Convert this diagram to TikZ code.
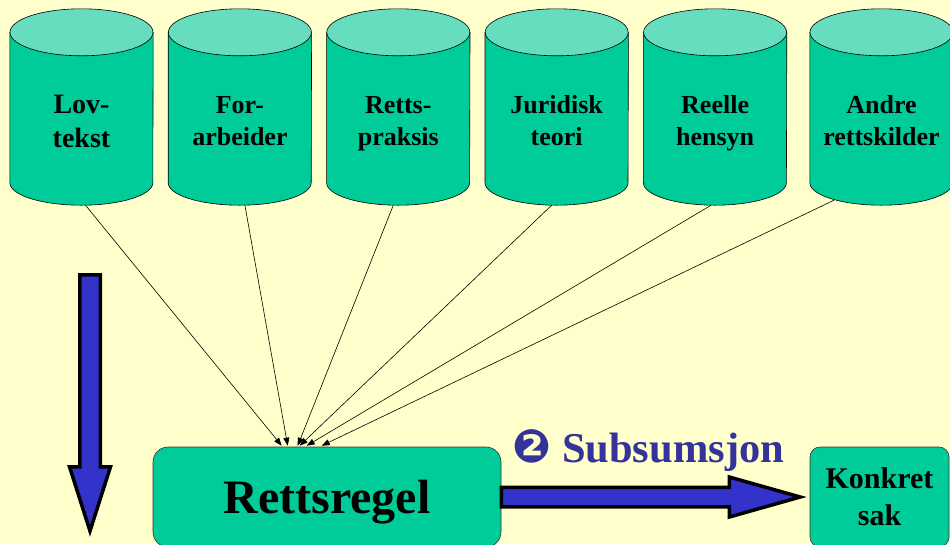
\documentclass[tikz,border=0pt]{standalone}
\usepackage{fontspec}
\setmainfont{Liberation Serif}
\newfontfamily\dingfont{DejaVu Sans}
\usetikzlibrary{arrows.meta, positioning, calc, backgrounds}
\definecolor{bgyellow}{RGB}{255,255,204}
\definecolor{srcgreen}{RGB}{0,204,153}
\definecolor{srctop}{RGB}{102,221,190}
\definecolor{arrowblue}{RGB}{51,51,204}
\definecolor{labelblue}{RGB}{51,51,153}
\tikzset{
  srcnode/.style={rectangle,minimum width=143pt,minimum height=196pt,inner sep=0pt,align=center,
    text height=90pt,text depth=14pt,font=\fontsize{26}{32}\selectfont\bfseries},
  cylbody/.style={draw=black,fill=srcgreen,line width=0.6pt},
  cyltop/.style={draw=black,fill=srctop,line width=0.6pt},
  boxnode/.style={rectangle,draw=black!80,fill=srcgreen,line width=0.6pt,align=center,inner sep=0pt},
  srcarr/.style={-{Triangle[length=8pt,width=6pt]},line width=0.6pt,color=black},
  fatarr/.style={draw=black,fill=arrowblue,line width=3.5pt,miter limit=20}
}

\begin{document}
\begin{tikzpicture}[x=1pt,y=-1pt]
  \useasboundingbox (0,0) rectangle (950,544);

  %% Rettskilder
  \node[srcnode,text height=94pt,font=\fontsize{28}{34}\selectfont\bfseries] (lov) at (81.5,107) {Lov-\\tekst};
  \node[srcnode,right=15pt of lov] (forarb) {For-\\arbeider};
  \node[srcnode,right=15pt of forarb] (praksis) {Retts-\\praksis};
  \node[srcnode,right=15pt of praksis] (teori) {Juridisk\\teori};
  \node[srcnode,right=15pt of teori] (reelle) {Reelle\\hensyn};
  \node[srcnode,right=23pt of reelle] (andre) {Andre\\rettskilder};

  \begin{scope}[on background layer]
    \fill[bgyellow] (0,0) rectangle (950,544);
    \foreach \src in {lov,forarb,praksis,teori,reelle,andre}{
      \draw[cylbody] ([yshift=-23.5pt]\src.north west) -- ([yshift=22.5pt]\src.south west)
        arc[start angle=180,end angle=360,x radius=71.5pt,y radius=22.5pt]
        -- ([yshift=-23.5pt]\src.north east) -- cycle;
      \draw[cyltop] ([yshift=-23.5pt]\src.north) ellipse [x radius=71.5pt,y radius=23.5pt];
    }
  \end{scope}

  %% Rettsregel and konkret sak
  \node[boxnode,rounded corners=15pt,minimum width=348pt,minimum height=100pt,text depth=0pt,
    font=\fontsize{48}{48}\selectfont\bfseries] (regel) at (327,497) {Rettsregel};
  \node[boxnode,rounded corners=10pt,minimum width=139pt,minimum height=100pt,
    font=\fontsize{30}{37}\selectfont\bfseries] (konkret) at (879.5,497) {Konkret\\sak};

  %% Subsumsjon
  \node[anchor=base west,inner sep=0pt,text=labelblue,font=\fontsize{42.5}{42.5}\selectfont\bfseries]
    (subs) at ([xshift=11pt,yshift=35pt]regel.east) {{\dingfont\fontsize{46}{46}\selectfont ❷} Subsumsjon};

  %% Connectors
  \draw[srcarr] ([xshift=4pt]lov.south) -- ([xshift=129pt,yshift=1pt]regel.north west);
  \draw[srcarr] ([xshift=5pt]forarb.south) -- ([xshift=135pt,yshift=1pt]regel.north west);
  \draw[srcarr] ([xshift=-5pt]praksis.south) -- ([xshift=145pt,yshift=1pt]regel.north west);
  \draw[srcarr] ([xshift=-5pt]teori.south) -- ([xshift=147pt,yshift=1pt]regel.north west);
  \draw[srcarr] ([xshift=-4pt]reelle.south) -- ([xshift=154pt,yshift=1pt]regel.north west);
  \draw[srcarr] ([xshift=-47.5pt,yshift=5pt]andre.south) -- ([xshift=169pt,yshift=1pt]regel.north west);

  \draw[fatarr] ([yshift=9.75pt]regel.east) -- ([xshift=228pt,yshift=9.75pt]regel.east)
    -- ([xshift=228pt,yshift=20pt]regel.east) -- ([xshift=-9.5pt]konkret.west)
    -- ([xshift=228pt,yshift=-20pt]regel.east) -- ([xshift=228pt,yshift=-9.75pt]regel.east)
    -- ([yshift=-9.75pt]regel.east) -- cycle;

  %% Down arrow
  \coordinate (dtop) at (90,274.75);
  \coordinate (dtip) at (90,531);
  \draw[fatarr] ([xshift=-10.25pt]dtop) -- ([xshift=10.25pt]dtop) -- (100.25,466.75) -- (110.5,466.75)
    -- (dtip) -- (69.5,466.75) -- (79.75,466.75) -- cycle;
\end{tikzpicture}
\end{document}
